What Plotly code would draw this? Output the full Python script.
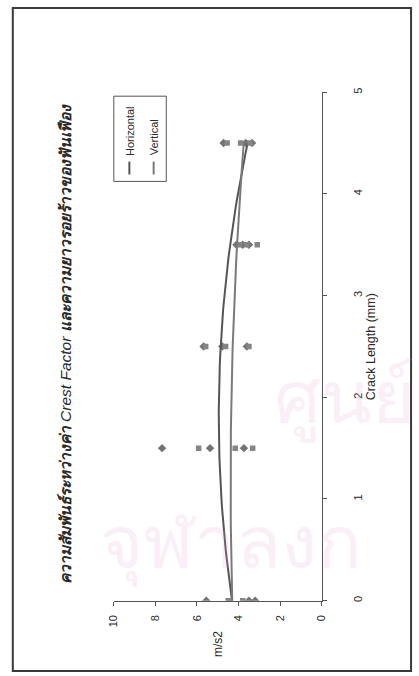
import numpy as np
import plotly.graph_objects as go

# Crest factor (m/s2) measured at each gear-tooth crack length (mm)
crack_mm = [0, 1.5, 2.5, 3.5, 4.5]
series_names = ["Horizontal", "Vertical"]
horizontal_vals = [[5.55, 3.5, 3.2], [7.68, 5.37, 3.74], [5.68, 4.78, 3.6], [4.1, 3.8, 3.5], [4.72, 3.65, 3.35]]
vertical_vals = [[4.5, 4.4, 3.8], [5.92, 4.16, 3.32], [5.58, 4.62, 3.5], [3.95, 3.6, 3.1], [4.55, 3.9, 3.45]]
value_ticks = [0, 2, 4, 6, 8, 10]
crack_ticks = [0, 1, 2, 3, 4, 5]

title_th_1 = "ความสัมพันธ์ระหว่างค่า"
title_en = "Crest Factor"
title_th_2 = "และความยาวรอยร้าวของฟันเฟือง"
value_title = "m/s2"
crack_title = "Crack Length (mm)"
watermark_1 = "ศูนย์"
watermark_2 = "จุฬาลงก"

W, H = 419, 676
FONT = "Liberation Sans, Arial, Noto Sans, sans-serif"
TXT = "#2a2a2a"


def px(x):
    return x / W


def py(y):
    return 1 - y / H


def flatten(vals):
    xs, ys = [], []
    for c, group in zip(crack_mm, vals):
        for v in group:
            xs.append(v)
            ys.append(c)
    return xs, ys


fig = go.Figure()

styles = [
    dict(symbol="diamond", size=6.5, mcolor="#737373", lcolor="#555555"),
    dict(symbol="square", size=5.5, mcolor="#858585", lcolor="#7a7a7a"),
]

# The chart is laid out turned a quarter turn: the value axis runs along the
# bottom (10 on the left) and crack length runs up the right-hand side.
for name, vals, st in zip(series_names, [horizontal_vals, vertical_vals], styles):
    vx, cy = flatten(vals)
    fig.add_trace(go.Scatter(
        x=vx, y=cy, mode="markers", name=name, showlegend=False,
        marker=dict(symbol=st["symbol"], size=st["size"], color=st["mcolor"], line=dict(width=0)),
    ))
    # second-order polynomial trend line over the measured range
    coef = np.polyfit(cy, vx, 2)
    cc = np.linspace(min(crack_mm), max(crack_mm), 80)
    fig.add_trace(go.Scatter(
        x=np.polyval(coef, cc), y=cc, mode="lines", showlegend=False,
        line=dict(color=st["lcolor"], width=2),
    ))

axis_common = dict(
    showgrid=False, zeroline=False, showline=True, linecolor="#555555", linewidth=1,
    ticks="outside", ticklen=4, tickcolor="#555555", tickangle=-90,
    tickfont=dict(family=FONT, size=11, color=TXT),
)
fig.update_layout(
    width=W, height=H, margin=dict(l=0, r=0, t=0, b=0),
    paper_bgcolor="white", plot_bgcolor="rgba(0,0,0,0)",
    xaxis=dict(domain=[px(111), px(325)], range=[10, 0], tickvals=value_ticks,
               ticklabelstandoff=5, **axis_common),
    yaxis=dict(domain=[py(601), py(88)], range=[0, 5], tickvals=crack_ticks, side="right",
               ticklabelstandoff=22, **axis_common),
)

ann = []
# faint page watermark
wm_font = dict(family="Noto Sans, sans-serif", size=74, color="rgba(225,160,200,0.17)")
ann.append(dict(x=px(274), y=py(446), xref="paper", yref="paper", xanchor="left", yanchor="bottom",
                text=watermark_1, showarrow=False, font=wm_font))
ann.append(dict(x=px(95), y=py(592), xref="paper", yref="paper", xanchor="left", yanchor="bottom",
                text=watermark_2, showarrow=False, font=wm_font))

center = dict(xref="paper", yref="paper", xanchor="center", yanchor="middle", textangle=-90, showarrow=False)
ann.append(dict(x=px(62), y=py(342), **center,
                text=f"<b><i>{title_th_1}</i></b> <i>{title_en}</i> <b><i>{title_th_2}</i></b>",
                font=dict(family=FONT, size=15.5, color=TXT)))
ann.append(dict(x=px(219), y=py(645), **center,
                text=value_title, font=dict(family=FONT, size=12, color=TXT)))
ann.append(dict(x=px(376), y=py(345), **center,
                text=crack_title, font=dict(family=FONT, size=12.5, color=TXT)))

shapes = []
# outer frame
shapes.append(dict(type="rect", xref="paper", yref="paper", x0=px(7), x1=px(417), y0=py(672), y1=py(3),
                   line=dict(color="#3a3a3a", width=2)))
# legend box
shapes.append(dict(type="rect", xref="paper", yref="paper", x0=px(111), x1=px(165), y0=py(178), y1=py(92),
                   line=dict(color="#555555", width=1)))
for i, (name, st) in enumerate(zip(series_names, styles)):
    lx = 127 + i * 25
    shapes.append(dict(type="line", xref="paper", yref="paper", x0=px(lx), x1=px(lx), y0=py(171), y1=py(158),
                       line=dict(color=st["lcolor"], width=2)))
    ann.append(dict(x=px(lx), y=py(154), xref="paper", yref="paper", xanchor="center", yanchor="bottom",
                    textangle=-90, showarrow=False, text=name,
                    font=dict(family=FONT, size=11, color=TXT)))

fig.update_layout(annotations=ann, shapes=shapes)
fig.write_html("out.html")
